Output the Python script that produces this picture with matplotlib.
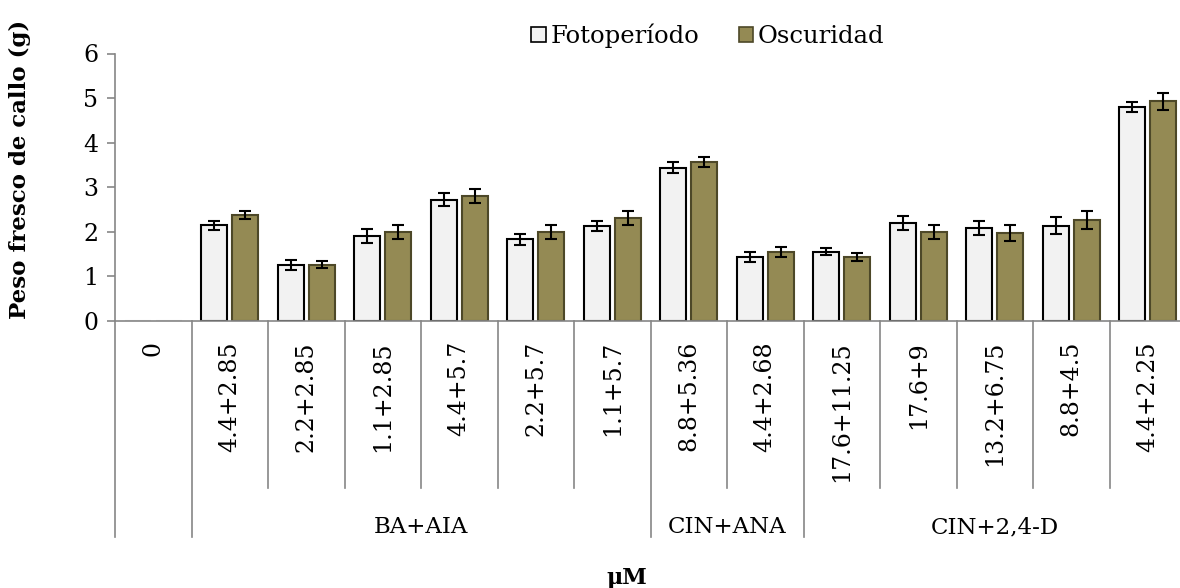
import matplotlib
matplotlib.use('Agg')
import matplotlib.pyplot as plt
import matplotlib.transforms as mtransforms
from matplotlib.patches import Patch
import numpy as np

plt.rcParams['font.family'] = ['DejaVu Serif']

# data
doses = ['0', '4.4+2.85', '2.2+2.85', '1.1+2.85', '4.4+5.7', '2.2+5.7', '1.1+5.7',
         '8.8+5.36', '4.4+2.68',
         '17.6+11.25', '17.6+9', '13.2+6.75', '8.8+4.5', '4.4+2.25']
groups = ['', 'BA+AIA', 'CIN+ANA', 'CIN+2,4-D']
group_sizes = [1, 6, 2, 5]

foto = [0, 2.15, 1.26, 1.91, 2.72, 1.83, 2.13, 3.44, 1.43, 1.55, 2.20, 2.09, 2.14, 4.80]
foto_err = [0, 0.10, 0.11, 0.15, 0.15, 0.12, 0.12, 0.13, 0.11, 0.08, 0.15, 0.16, 0.19, 0.12]
oscu = [0, 2.37, 1.26, 2.00, 2.81, 1.99, 2.31, 3.56, 1.54, 1.44, 1.99, 1.98, 2.27, 4.93]
oscu_err = [0, 0.09, 0.08, 0.16, 0.16, 0.16, 0.15, 0.11, 0.11, 0.09, 0.16, 0.18, 0.20, 0.19]

W, H = 1180, 588
fig = plt.figure(figsize=(W / 100, H / 100), dpi=100)

x0, x1 = 115, 1186      # plot area in pixels
y0, y6 = 321, 53.5
ax = fig.add_axes([x0 / W, 1 - y0 / H, (x1 - x0) / W, (y0 - y6) / H])

grey = '#868686'
f_col, f_edge = '#f2f2f2', 'black'
o_col, o_edge = '#948a54', '#4d4828'
x = np.arange(len(doses))
bw = 0.34
off = 0.2

f_edges = ['#e0e0e0' if v == 0 else f_edge for v in foto]
o_edges = ['#e0e0e0' if v == 0 else o_edge for v in oscu]
ax.bar(x - off, foto, width=bw, color=f_col, edgecolor=f_edges, linewidth=1.5, zorder=2)
ax.bar(x + off, oscu, width=bw, color=o_col, edgecolor=o_edges, linewidth=1.5, zorder=2)

fe = [e if e > 0 else np.nan for e in foto_err]
oe = [e if e > 0 else np.nan for e in oscu_err]
ax.errorbar(x - off, foto, yerr=fe, fmt='none', ecolor='black', elinewidth=1.5,
            capsize=4.5, capthick=1.5, zorder=3)
ax.errorbar(x + off, oscu, yerr=oe, fmt='none', ecolor='black', elinewidth=1.5,
            capsize=4.5, capthick=1.5, zorder=3)

ax.set_xlim(-0.5, len(doses) - 0.5)
ax.set_ylim(0, 6)
ax.set_yticks(range(0, 7))
ax.tick_params(axis='y', direction='out', length=6, width=1.2, color=grey,
               labelsize=17, pad=6)
ax.set_xticks([])
for s in ['top', 'right']:
    ax.spines[s].set_visible(False)
for s in ['left', 'bottom']:
    ax.spines[s].set_color(grey)
    ax.spines[s].set_linewidth(1.2)

# multi-level category axis below the plot
trans = mtransforms.blended_transform_factory(ax.transData, fig.transFigure)

def fy(py):
    return 1 - py / H

bounds = np.cumsum([0] + group_sizes) - 0.5
for b in np.arange(len(doses) + 1) - 0.5:
    bottom = 537 if b in bounds else 488
    ax.plot([b, b], [fy(y0), fy(bottom)], color=grey, lw=1.2, transform=trans,
            clip_on=False)

for i, lab in enumerate(doses):
    ax.text(i, fy(341), lab, rotation=90, ha='center', va='top', fontsize=17,
            transform=trans)

for g, lo, hi in zip(groups, bounds[:-1], bounds[1:]):
    ax.text((lo + hi) / 2, fy(527), g, ha='center', va='center', fontsize=16.5,
            transform=trans)

fig.text(627 / W, fy(578), 'μM', ha='center', va='center', fontsize=16,
         fontweight='bold')
fig.text(20 / W, fy(169), 'Peso fresco de callo (g)', rotation=90, ha='center',
         va='center', fontsize=16.5, fontweight='bold')

handles = [Patch(facecolor=f_col, edgecolor=f_edge, linewidth=1.2, label='Fotoperíodo'),
           Patch(facecolor=o_col, edgecolor=o_edge, linewidth=1.2, label='Oscuridad')]
fig.legend(handles=handles, loc='center', bbox_to_anchor=(708 / W, fy(36)), ncol=2,
           frameon=False, fontsize=17.5, handlelength=0.6, handleheight=0.6,
           handletextpad=0.2, columnspacing=1.6)

fig.savefig('out.png', dpi=100)
